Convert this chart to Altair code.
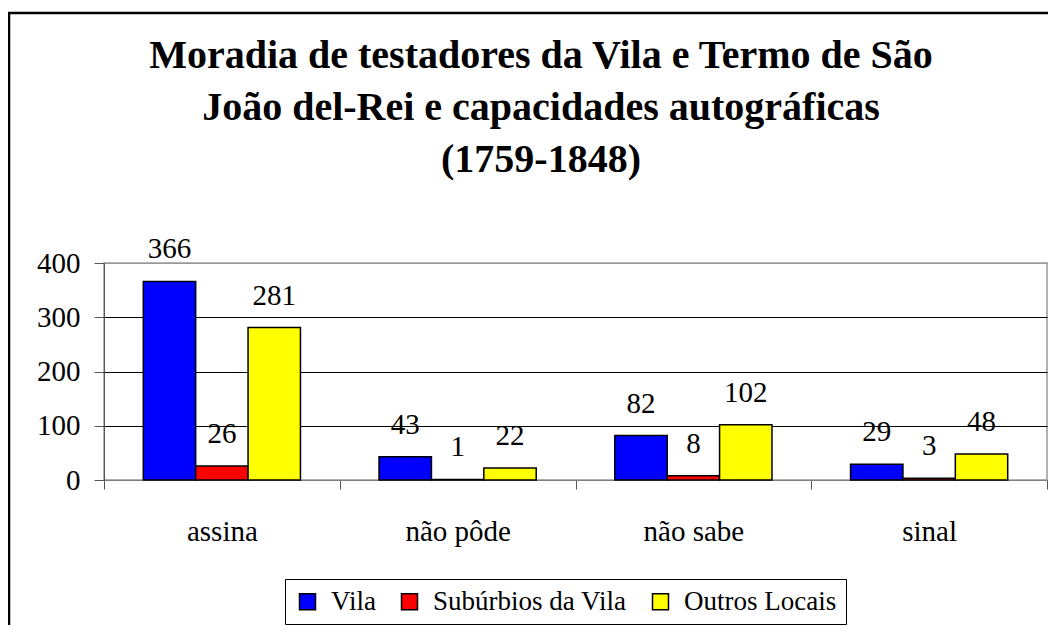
import altair as alt
import pandas as pd

categories = ["assina", "não pôde", "não sabe", "sinal"]
series = ["Vila", "Subúrbios da Vila", "Outros Locais"]
vila = [366, 43, 82, 29]
suburbios = [26, 1, 8, 3]
outros = [281, 22, 102, 48]
colors = ["#0000FF", "#FF0000", "#FFFF00"]
title_lines = ["Moradia de testadores da Vila e Termo de São",
               "João del-Rei e capacidades autográficas",
               "(1759-1848)"]

rows = []
for i, c in enumerate(categories):
    for s, vals in zip(series, [vila, suburbios, outros]):
        rows.append({"cat": c, "serie": s, "valor": vals[i]})
df = pd.DataFrame(rows)

FONT = "Liberation Serif, Times New Roman, serif"

x = alt.X("cat:N", sort=categories, title=None,
          scale=alt.Scale(paddingInner=0, paddingOuter=0),
          axis=alt.Axis(labelAngle=0, tickBand="extent", tickSize=9, labelPadding=28,
                        domainColor="#808080", tickColor="#555555", labelFontSize=29,
                        labelFont=FONT, labelColor="black", grid=False))
xo = alt.XOffset("serie:N", sort=series,
                 scale=alt.Scale(paddingOuter=0.75, paddingInner=0))
y = alt.Y("valor:Q", title=None,
          scale=alt.Scale(domain=[0, 400], nice=False),
          axis=alt.Axis(values=[0, 100, 200, 300, 400], tickSize=10, labelPadding=14,
                        labelFontSize=29, labelFont=FONT, labelColor="black",
                        domainColor="#555555", tickColor="#555555",
                        gridColor=alt.condition("datum.value == 0 || datum.value == 400",
                                                alt.value("#999999"), alt.value("black")),
                        gridWidth=1))

color = alt.Color("serie:N", sort=series, title=None,
                  scale=alt.Scale(domain=series, range=colors),
                  legend=alt.Legend(orient="none", legendX=181, legendY=316,
                                    direction="horizontal", symbolType="square",
                                    symbolSize=256, symbolStrokeColor="black",
                                    symbolStrokeWidth=1.5, symbolOpacity=1,
                                    labelFontSize=27, labelColor="black", labelFont=FONT,
                                    labelLimit=0, columnPadding=20, symbolOffset=0,
                                    labelOffset=10, padding=9, strokeColor="black",
                                    fillColor="white"))

bars = alt.Chart(df).mark_bar(stroke="black", strokeWidth=1.5, opacity=1).encode(
    x=x, xOffset=xo, y=y, color=color)

labels = alt.Chart(df).mark_text(font=FONT, fontSize=29, baseline="alphabetic",
                                 dy=-23, color="black").encode(
    x=alt.X("cat:N", sort=categories), xOffset=alt.XOffset("serie:N", sort=series),
    y="valor:Q", text="valor:Q")

frame = alt.Chart(alt.Data(values=[{"f": 1}])).mark_rect(
    filled=False, stroke="black", strokeWidth=2.5).encode(
    x=alt.value(-95), x2=alt.value(1200), y=alt.value(-250), y2=alt.value(600))

title = alt.Chart(alt.Data(values=[{"f": 1}])).mark_text(
    font=FONT, fontSize=40, fontWeight="bold", color="black", lineHeight=52,
    align="center", baseline="alphabetic").encode(
    x=alt.value(437), y=alt.value(-195), text=alt.value(title_lines))

chart = alt.layer(frame, title, bars, labels).properties(
    width=943, height=217,
    autosize=alt.AutoSizeParams(type="none"),
    padding={"left": 96, "top": 255, "right": 1, "bottom": 145},
    background="white",
).configure_view(stroke="#999999", strokeWidth=1.5)

chart.save("out.html", embed_options={"renderer": "svg", "actions": False})
